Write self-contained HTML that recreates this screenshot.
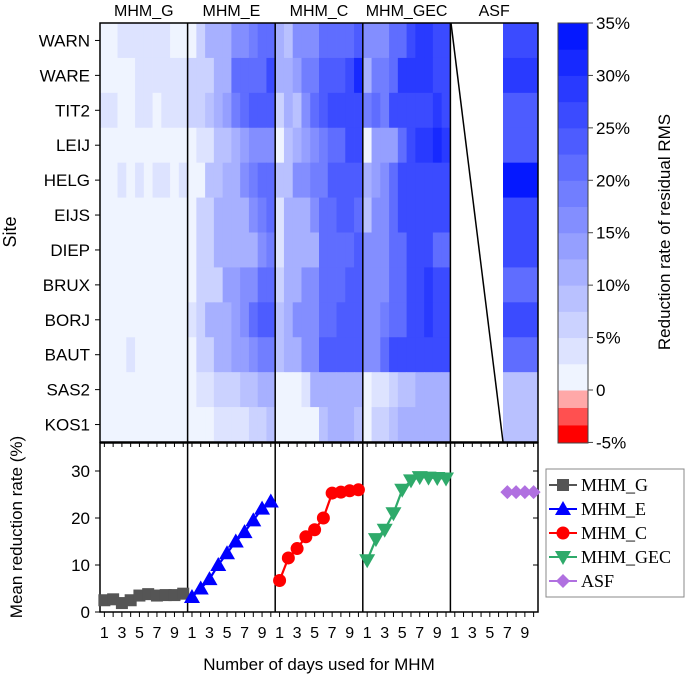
<!DOCTYPE html>
<html><head><meta charset="utf-8"><style>
body{margin:0;background:#fff;}
svg text{font-family:"Liberation Sans",sans-serif;}
</style></head><body>
<svg id="c" width="685" height="679" xmlns="http://www.w3.org/2000/svg"></svg>
<script>
const sites=["WARN","WARE","TIT2","LEIJ","HELG","EIJS","DIEP","BRUX","BORJ","BAUT","SAS2","KOS1"];
const methods=["MHM_G","MHM_E","MHM_C","MHM_GEC","ASF"];
const heatG=[[2,2,3,3,3,3,3,3,2,2],[1,2,2,2,3,3,3,3,3,3],[3,3,2,2,3,3,1,3,3,3],[1,2,2,0,2,2,2,2,2,2],[2,2,3,2,4,2,3,4,2,4],[1,1,1,2,2,2,1,2,2,2],[1,1,0,2,2,2,2,2,2,2],[2,2,1,1,2,1,2,1,2,2],[1,0,1,1,1,1,2,1,2,2],[1,1,1,3,2,2,2,2,2,2],[2,2,1,1,1,1,0,0,2,2],[0,0,0,1,1,2,1,1,1,1]];
const heatE=[[1,5,12,12,12,15,15,18,20,20],[6,6,6,10,12,20,20,22,22,25],[5,7,9,12,14,18,20,24,24,24],[1,3,3,8,8,12,14,15,15,15],[2,2,8,8,11,12,15,18,22,22],[1,5,5,10,10,12,12,15,18,20],[1,5,5,10,10,12,12,12,16,18],[2,5,5,6,14,14,16,16,22,22],[3,5,10,10,10,14,16,20,24,24],[2,6,6,10,12,14,14,16,18,18],[1,3,3,5,5,7,8,8,10,12],[1,2,2,3,3,3,3,6,6,8]];
const heatC=[[10,8,15,15,15,22,22,22,22,24],[10,12,14,18,18,24,24,24,26,30],[5,12,8,15,22,24,25,25,25,25],[0,8,12,14,15,18,20,20,25,25],[8,8,15,15,18,18,24,24,24,24],[3,10,10,12,16,22,22,24,24,22],[4,10,10,12,12,22,22,22,22,24],[5,12,12,15,15,22,22,22,24,24],[8,10,15,15,15,22,22,24,24,24],[8,12,12,15,15,24,24,24,24,24],[0,2,2,3,10,10,12,12,12,12],[0,0,0,1,1,8,10,10,12,8]];
const heatGEC=[[15,15,15,20,22,25,28,28,25,25],[10,18,18,22,28,28,28,28,27,27],[18,20,18,25,25,27,27,27,28,27],[2,14,14,14,20,25,28,28,30,28],[12,14,15,22,25,25,27,27,27,27],[8,16,16,20,25,25,25,25,25,25],[15,15,15,20,22,25,25,25,22,22],[15,15,15,22,22,25,25,28,25,25],[15,15,18,22,22,25,25,28,25,25],[15,15,20,25,25,25,25,25,25,25],[2,4,4,5,8,8,12,12,12,12],[1,5,5,8,10,10,12,12,12,12]];
const heatASF=[26,29,24,24,35,25,25,21,27,21,9,9];
const meanG=[2.5,2.7,1.9,2.5,3.5,3.8,3.5,3.6,3.6,3.9];
const meanE=[3.2,5,7,10,12.5,15,17,19.5,22,23.5];
const meanC=[6.7,11.5,13.5,16,17.5,20,25.3,25.5,25.8,26];
const meanGEC=[11,15.5,17.5,21,26,28,28.7,28.6,28.5,28.4];
const meanASF=[25.5,25.5,25.5,25.5];
const asfDays=[7,8,9,10];
const yTicks=[0,10,20,30];
const cbTicks=[35,30,25,20,15,10,5,0,-5];

const svg=document.getElementById('c');const NS="http://www.w3.org/2000/svg";
function el(t,a,p){const e=document.createElementNS(NS,t);for(const k in a)e.setAttribute(k,a[k]);(p||svg).appendChild(e);return e;}
const X0=100,PW=87.6,TOP=23,RH=(442-23)/12;
const px=(m,d)=>X0+m*PW+(d-0.5)*PW/10;
const cw=PW/10;
function col(v){if(v<0){return v<-3.33?"#ff0000":v<-1.67?"#ff5050":"#ffa8a8";}
 let q=Math.min(Math.floor(v/2.5),13)*2.5+1.25;const r=Math.round(248-7.2*q);const g=Math.round(Math.min(255,r+16*q/35+4));return `rgb(${Math.max(r,0)},${g},255)`;}
const heats=[heatG,heatE,heatC,heatGEC];
heats.forEach((H,m)=>H.forEach((row,i)=>row.forEach((v,d)=>{const r=el('rect',{x:px(m,d+1)-cw/2,y:TOP+i*RH,width:cw+0.4,height:RH+0.4,fill:col(v)});

})));
heatASF.forEach((v,i)=>{const r=el('rect',{x:503,y:TOP+i*RH,width:35,height:RH+0.4,fill:col(v)});

});
el('line',{x1:451,y1:TOP,x2:503,y2:442,stroke:'#000','stroke-width':1.5});
el('rect',{x:X0,y:TOP,width:438,height:419,fill:'none',stroke:'#000','stroke-width':1.5});
for(let m=1;m<5;m++)el('line',{x1:X0+m*PW,y1:TOP,x2:X0+m*PW,y2:612,stroke:'#000','stroke-width':1.5});
methods.forEach((n,m)=>{const t=el('text',{x:X0+(m+0.5)*PW,y:16,'text-anchor':'middle','font-size':16});t.textContent=n;

});
sites.forEach((s,i)=>{const y=TOP+(i+0.5)*RH;el('line',{x1:95,y1:y,x2:100,y2:y,stroke:'#000'});const t=el('text',{x:90,y:y+6,'text-anchor':'end','font-size':17});t.textContent=s;

});
let st=el('text',{transform:'translate(16,232) rotate(-90)','text-anchor':'middle','font-size':18});st.textContent='Site';

// colorbar
const cbY=v=>390-v*(367/35);
function band(lo,hi){const r=el('rect',{x:558,y:cbY(hi),width:30,height:cbY(lo)-cbY(hi)+0.5,fill:col((lo+hi)/2)});
}
for(let k=0;k<3;k++)band(-5+k*5/3,-5+(k+1)*5/3);
for(let k=0;k<14;k++)band(k*2.5,(k+1)*2.5);
el('rect',{x:558,y:23,width:30,height:420,fill:'none',stroke:'#444'});
cbTicks.forEach(v=>{const y=cbY(v);el('line',{x1:588,y1:y,x2:593,y2:y,stroke:'#444'});const t=el('text',{x:596,y:y+6,'font-size':17});t.textContent=v===0?'0':v+'%';
});
let ct=el('text',{transform:'translate(670,232) rotate(-90)','text-anchor':'middle','font-size':17});ct.textContent='Reduction rate of  residual RMS';

// bottom chart
const B0=612,yS=v=>B0-v*4.7;
el('rect',{x:X0,y:443,width:438,height:169,fill:'none',stroke:'#000','stroke-width':1.5});
yTicks.forEach(v=>{const y=yS(v);el('line',{x1:95,y1:y,x2:100,y2:y,stroke:'#000'});el('line',{x1:538,y1:y,x2:533,y2:y,stroke:'#000'});
const t=el('text',{x:90,y:y+6,'text-anchor':'end','font-size':17});t.textContent=v;
});
for(let m=0;m<5;m++)for(let d=1;d<=10;d++){const x=px(m,d);el('line',{x1:x,y1:612,x2:x,y2:617,stroke:'#000'});el('line',{x1:x,y1:443,x2:x,y2:447,stroke:'#000'});
if(d%2){const t=el('text',{x:x,y:638,'text-anchor':'middle','font-size':16});t.textContent=d;
}}
let yt=el('text',{transform:'translate(22,527) rotate(-90)','text-anchor':'middle','font-size':17});yt.textContent='Mean reduction rate (%)';

let xt=el('text',{x:319,y:670,'text-anchor':'middle','font-size':17});xt.textContent='Number of days used for MHM';

function marker(shape,x,y,c,g){let s;
 if(shape==='sq')s=el('rect',{x:x-6,y:y-6,width:12,height:12,fill:c},g);
 else if(shape==='up')s=el('polygon',{points:`${x},${y-8} ${x-8},${y+6} ${x+8},${y+6}`,fill:c},g);
 else if(shape==='ci')s=el('circle',{cx:x,cy:y,r:6.5,fill:c},g);
 else if(shape==='dn')s=el('polygon',{points:`${x},${y+8} ${x-8},${y-6} ${x+8},${y-6}`,fill:c},g);
 else s=el('polygon',{points:`${x},${y-7} ${x+7},${y} ${x},${y+7} ${x-7},${y}`,fill:c},g);
 }
const series=[[meanG,'#555555','sq',null],[meanE,'#0000ff','up',null],[meanC,'#ff0000','ci',null],[meanGEC,'#2eaa6a','dn',null],[meanASF,'#b070e0','di',asfDays]];
series.forEach(([vals,c,sh,days],m)=>{const g=el('g',{});
 const pts=vals.map((v,i)=>[px(m,days?days[i]:i+1),yS(v)]);
 el('polyline',{points:pts.map(p=>p.join(',')).join(' '),fill:'none',stroke:c,'stroke-width':2.2},g);
 pts.forEach(p=>marker(sh,p[0],p[1],c,g));});
// legend
const lg=el('g',{});
el('rect',{x:546,y:469,width:138,height:128,fill:'#fff',stroke:'#888'},lg);
series.forEach(([v,c,sh],i)=>{const y=485+i*24;const e=el('g',{},lg);
 el('line',{x1:549,y1:y,x2:577,y2:y,stroke:c,'stroke-width':2},e);marker(sh,563,y,c,e);
 const t=el('text',{x:581,y:y+6,'font-size':18,style:'font-family:"Liberation Serif",serif'},e);t.textContent=methods[i];});
</script>
</body></html>
